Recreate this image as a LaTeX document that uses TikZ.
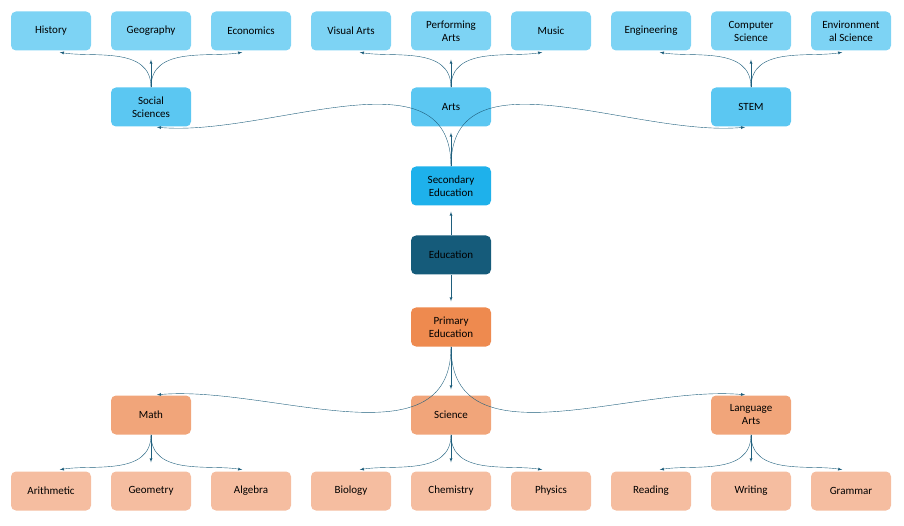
\documentclass[tikz,border=0pt]{standalone}
\usepackage{fontspec}
\setmainfont{Carlito}
\usetikzlibrary{positioning}
\definecolor{leafblue}{HTML}{7DD3F4}
\definecolor{midblue}{HTML}{5BC7F2}
\definecolor{secblue}{HTML}{1EB1EB}
\definecolor{rootblue}{HTML}{155B7A}
\definecolor{primorange}{HTML}{EE8A4F}
\definecolor{midorange}{HTML}{F1A57A}
\definecolor{leaforange}{HTML}{F5BDA0}
\definecolor{linkc}{HTML}{1F5F7D}

\begin{document}
\begin{tikzpicture}[x=1pt,y=-1pt,font=\fontsize{11}{13}\selectfont]
    \tikzstyle{box} = [rectangle, rounded corners=5pt, minimum width=80pt, minimum height=39pt, inner sep=1pt, align=center, text=black]
    \tikzstyle{link} = [linkc, -latex, shorten >=9pt]
    \useasboundingbox (0,0) rectangle (904,526);

    % Top leaves
    \foreach \n/\t [count=\i from 0] in {hist/History, geo/Geography, eco/Economics, vis/Visual Arts, perf/Performing\\Arts, mus/Music, eng/Engineering, cs/Computer\\Science, env/Environment\\al Science}
        \node[box, fill=leafblue] (\n) at (51+100*\i, 31) {\t};

    % Branches
    \node[box, fill=midblue] (soc) at (151,107) {Social\\Sciences};
    \node[box, fill=midblue] (arts) at (451,107) {Arts};
    \node[box, fill=midblue] (stem) at (751,107) {STEM};
    \node[box, fill=secblue] (sec) at (451,186) {Secondary\\Education};
    \node[box, fill=rootblue] (edu) at (451,255) {Education};
    \node[box, fill=primorange] (prim) at (451,327) {Primary\\Education};
    \node[box, fill=midorange] (math) at (151,415) {Math};
    \node[box, fill=midorange] (sci) at (451,415) {Science};
    \node[box, fill=midorange] (lang) at (751,415) {Language\\Arts};

    % Bottom leaves
    \foreach \n/\t [count=\i from 0] in {ari/Arithmetic, geom/Geometry, alg/Algebra, bio/Biology, chem/Chemistry, phys/Physics, read/Reading, writ/Writing, gram/Grammar}
        \node[box, fill=leaforange] (\n) at (51+100*\i, 491) {\t};

    % Upward links
    \foreach \p/\a/\b/\c in {soc/hist/geo/eco, arts/vis/perf/mus, stem/eng/cs/env} {
        \draw[link] (\p.north) to[out=90, in=-10] (\a.south);
        \draw[link] (\p.north) -- (\b.south);
        \draw[link] (\p.north) to[out=90, in=-170] (\c.south);
    }
    \draw[link, shorten >=6pt] (sec.north) to[out=90, in=-5] (soc.south);
    \draw[link, shorten >=6pt] (sec.north) -- (arts.south);
    \draw[link, shorten >=6pt] (sec.north) to[out=90, in=-175] (stem.south);
    \draw[link, shorten >=6pt] (edu.north) -- (sec.south);
    \draw[link, shorten >=6pt] (edu.south) -- (prim.north);

    % Downward links
    \draw[link, shorten >=6pt] (prim.south) to[out=-90, in=5] (math.north);
    \draw[link, shorten >=6pt] (prim.south) -- (sci.north);
    \draw[link, shorten >=6pt] (prim.south) to[out=-90, in=175] (lang.north);
    \foreach \p/\a/\b/\c in {math/ari/geom/alg, sci/bio/chem/phys, lang/read/writ/gram} {
        \draw[link] (\p.south) to[out=-90, in=10] (\a.north);
        \draw[link] (\p.south) -- (\b.north);
        \draw[link] (\p.south) to[out=-90, in=170] (\c.north);
    }
\end{tikzpicture}
\end{document}
